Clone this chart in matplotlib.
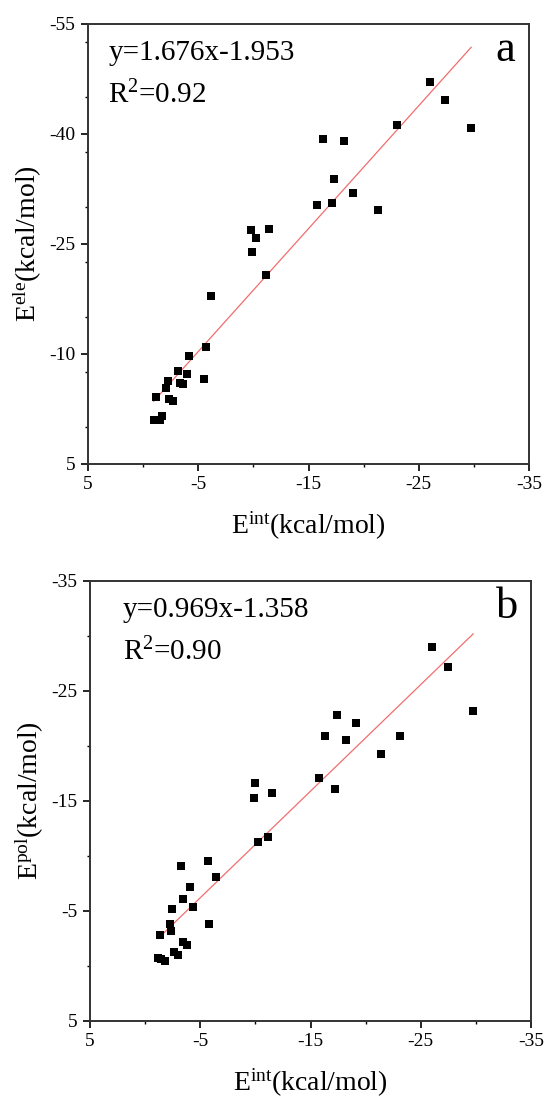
import matplotlib
matplotlib.use("Agg")
import numpy as np
from matplotlib import pyplot as plt
from matplotlib.ticker import MultipleLocator

plt.rcParams['font.family'] = ['Liberation Serif', 'DejaVu Serif']
plt.rcParams['mathtext.fontset'] = 'custom'
plt.rcParams['mathtext.rm'] = 'Liberation Serif'
plt.rcParams['mathtext.it'] = 'Liberation Serif:italic'
plt.rcParams['axes.unicode_minus'] = False

# panel a: E_int vs E_ele
a_x = [-26.0, -27.4, -29.75, -23.0, -16.3, -18.2, -17.3, -19.0, -15.8, -17.1,
       -21.3, -9.8, -10.2, -11.4, -9.9, -11.1, -6.2, -5.7, -4.2, -5.55,
       -3.15, -3.95, -3.35, -3.65, -2.3, -2.1, -1.2, -2.35, -2.75, -0.95,
       -1.75, -1.55]
a_y = [-47.1, -44.6, -40.8, -41.2, -39.3, -39.0, -33.8, -32.0, -30.3, -30.6,
       -29.7, -26.9, -25.8, -27.1, -23.9, -20.8, -17.9, -10.9, -9.7, -6.6,
       -7.65, -7.3, -6.1, -5.9, -6.3, -5.4, -4.1, -3.9, -3.55, -1.0,
       -1.55, -1.05]
a_fit = (1.676, -1.953)
a_r2 = "0.92"

# panel b: E_int vs E_pol
b_x = [-26.0, -27.5, -29.75, -17.4, -19.1, -16.3, -18.2, -23.1, -21.4, -15.8,
       -17.2, -10.0, -9.9, -11.5, -10.2, -11.1, -5.68, -3.26, -6.43, -4.1,
       -3.4, -4.35, -2.44, -5.83, -2.23, -2.38, -1.38, -3.47, -3.83, -2.62,
       -2.96, -1.17, -1.83, -1.45]
b_y = [-28.97, -27.2, -23.2, -22.8, -22.1, -20.9, -20.5, -20.9, -19.3, -17.1,
       -16.1, -16.6, -15.3, -15.7, -11.25, -11.7, -9.5, -9.1, -8.1, -7.2,
       -6.1, -5.4, -5.2, -3.8, -3.85, -3.2, -2.8, -2.2, -1.9, -1.3,
       -1.0, -0.75, -0.45, -0.6]
b_fit = (0.969, -1.358)
b_r2 = "0.90"

x_ticks = [5, -5, -15, -25, -35]
a_yticks = [5, -10, -25, -40, -55]
b_yticks = [5, -5, -15, -25, -35]

fig = plt.figure(figsize=(5.49, 10.99), dpi=100)
ax_a = fig.add_axes([0.1603, 0.5778, 0.8033, 0.4004])
ax_b = fig.add_axes([0.1640, 0.0710, 0.8033, 0.4004])


def draw_panel(ax, xs, ys, fit, r2, yticks, ylab, letter, txt_x):
    xs = np.array(xs)
    ax.scatter(xs, ys, marker='s', s=30, color='black', zorder=3, linewidths=0)
    line_x = np.array([xs.max(), xs.min()])
    ax.plot(line_x, fit[0] * line_x + fit[1], color='#f26d6d', lw=0.9, zorder=2)

    ax.set_xlim(5, -35)
    ax.set_ylim(yticks[0], yticks[-1])
    ax.set_xticks(x_ticks)
    ax.set_yticks(yticks)
    step = abs(yticks[1] - yticks[0])
    ax.xaxis.set_minor_locator(MultipleLocator(5))
    ax.yaxis.set_minor_locator(MultipleLocator(step / 2))
    ax.tick_params(which='major', direction='out', length=5, width=1.2,
                   labelsize=14, top=False, right=False, pad=4)
    ax.tick_params(which='minor', direction='out', length=2.5, width=1.0,
                   top=False, right=False)
    for sp in ax.spines.values():
        sp.set_linewidth(1.4)
        sp.set_color('#333333')

    ax.set_xlabel(r'E$^{\mathrm{int}}$(kcal/mol)', fontsize=20, labelpad=12)
    ax.set_ylabel(ylab, fontsize=20, labelpad=4)

    sign = '-' if fit[1] < 0 else '+'
    ax.text(txt_x, 0.935, f"y={fit[0]:.3f}x{sign}{abs(fit[1]):.3f}",
            transform=ax.transAxes, fontsize=21, ha='left', va='center')
    ax.text(txt_x, 0.838, r'R$^{\mathrm{2}}$=' + r2,
            transform=ax.transAxes, fontsize=21, ha='left', va='center')
    ax.text(0.945, 0.94, letter, transform=ax.transAxes, fontsize=32,
            ha='center', va='center')


draw_panel(ax_a, a_x, a_y, a_fit, a_r2, a_yticks,
           r'E$^{\mathrm{ele}}$(kcal/mol)', 'a', 0.046)
draw_panel(ax_b, b_x, b_y, b_fit, b_r2, b_yticks,
           r'E$^{\mathrm{pol}}$(kcal/mol)', 'b', 0.074)

fig.savefig('out.png', dpi=100)
